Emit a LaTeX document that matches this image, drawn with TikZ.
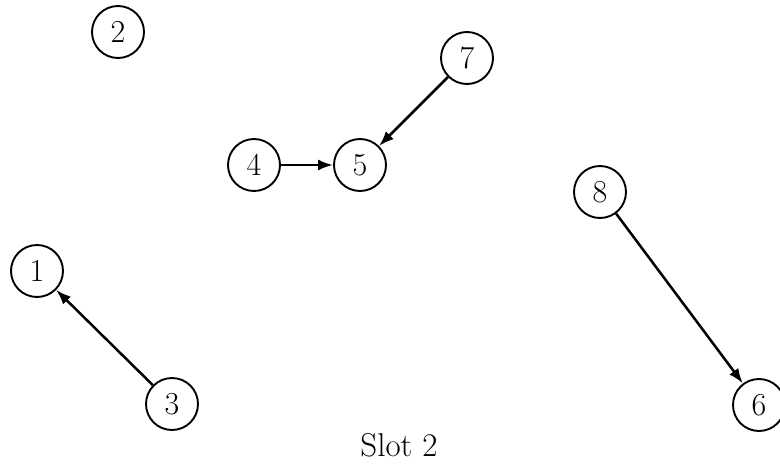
\documentclass[tikz,border=0pt]{standalone}
\usetikzlibrary{arrows.meta}
\tikzset{
  vertex/.style={draw, circle, line width=1.9pt, minimum size=52pt, inner sep=0pt,
                 font=\fontsize{32}{38}\selectfont},
  edge/.style={line width=2.5pt, -{Latex[length=15pt,width=11pt]}},
}
\begin{document}
\begin{tikzpicture}[x=1pt, y=-1pt]
  \useasboundingbox (0,0) rectangle (780,469);
  \clip (0,0) rectangle (780,469);
  % vertices
  \node[vertex] (n2) at (118,32) {2};
  \node[vertex] (n7) at (467,58) {7};
  \node[vertex] (n4) at (254,165) {4};
  \node[vertex] (n5) at (360,165) {5};
  \node[vertex] (n8) at (600,192) {8};
  \node[vertex] (n1) at (37,271) {1};
  \node[vertex] (n3) at (172,404) {3};
  \node[vertex] (n6) at (759,405) {6};
  % directed edges
  \draw[edge] (n4) -- (n5);
  \draw[edge] (n7) -- (n5);
  \draw[edge] (n3) -- (n1);
  \draw[edge] (n8) -- (n6);
  % caption
  \node[font=\fontsize{33}{40}\selectfont, anchor=base] (cap) at (399,456) {Slot 2};
\end{tikzpicture}
\end{document}
